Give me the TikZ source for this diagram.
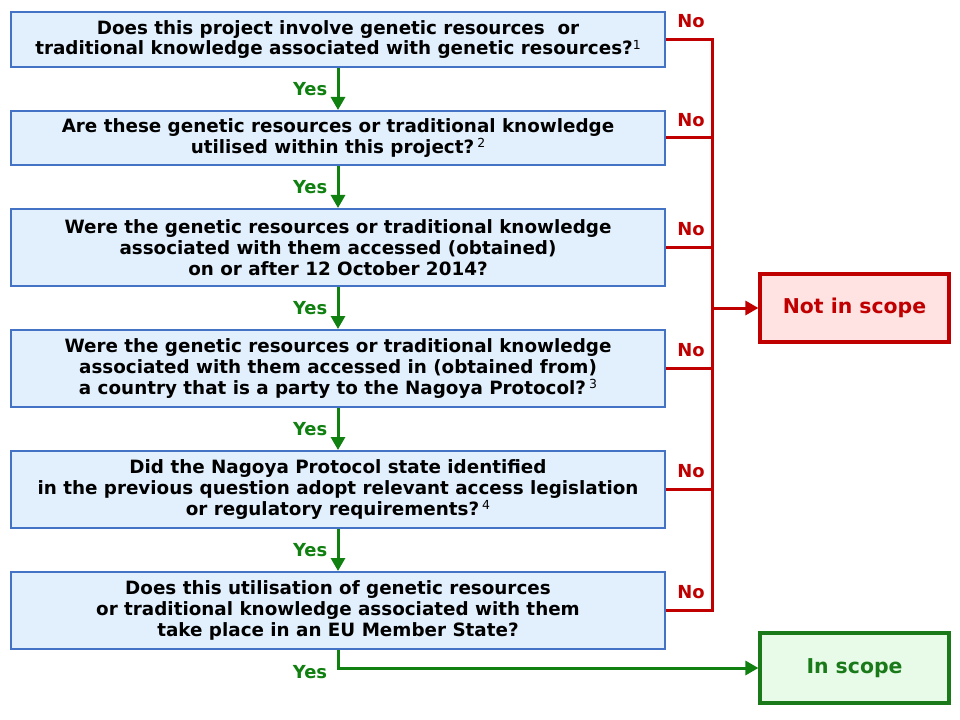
\documentclass[tikz,border=0pt]{standalone}
\usepackage{fontspec}
\setmainfont{DejaVu Sans}
\usetikzlibrary{arrows.meta,calc}
\definecolor{qfill}{HTML}{E2F0FD}
\definecolor{qdraw}{HTML}{4472C4}
\definecolor{nored}{HTML}{C00000}
\definecolor{nofill}{HTML}{FFE3E3}
\definecolor{yesgreen}{HTML}{108010}
\definecolor{isfill}{HTML}{E8FBE8}
\definecolor{isdraw}{HTML}{1A7A1A}
\newcommand{\fnref}[1]{\raisebox{0.55ex}{\fontsize{12.5}{14}\selectfont\mdseries #1}}
\tikzset{
  qbox/.style={draw=qdraw, fill=qfill, line width=2bp, minimum width=654bp, align=center, inner sep=0pt,
    font=\fontsize{18.4}{21}\selectfont\bfseries},
  endbox/.style={line width=3.2bp, minimum width=189bp, inner sep=0pt, font=\fontsize{20.5}{22}\selectfont\bfseries},
  nol/.style={draw=nored, line width=3bp},
  yesl/.style={draw=yesgreen, line width=3bp},
  tip/.style={-{Triangle[length=13bp,width=14bp]}},
  nolab/.style={text=nored, font=\fontsize{18}{20}\selectfont\bfseries},
  yeslab/.style={text=yesgreen, font=\fontsize{18}{20}\selectfont\bfseries},
}
\begin{document}
\begin{tikzpicture}[x=1bp,y=-1bp]
\useasboundingbox (0,0) rectangle (960,720);
\fill[white] (0,0) rectangle (960,720);
\node[qbox, minimum height=55bp] (b1) at (338,39.5) {Does this project involve genetic resources\ \ or\\traditional knowledge associated with genetic resources?\fnref{1}};
\node[qbox, minimum height=54bp] (b2) at (338,138) {Are these genetic resources or traditional knowledge\\utilised within this project?\,\fnref{2}};
\node[qbox, minimum height=77bp] (b3) at (338,247.5) {Were the genetic resources or traditional knowledge\\associated with them accessed (obtained)\\on or after 12 October 2014?};
\node[qbox, minimum height=77bp] (b4) at (338,368.5) {Were the genetic resources or traditional knowledge\\associated with them accessed in (obtained from)\\a country that is a party to the Nagoya Protocol?\,\fnref{3}};
\node[qbox, minimum height=77bp] (b5) at (338,489.5) {Did the Nagoya Protocol state identified\\in the previous question adopt relevant access legislation\\or regulatory requirements?\,\fnref{4}};
\node[qbox, minimum height=77bp] (b6) at (338,610.5) {Does this utilisation of genetic resources\\or traditional knowledge associated with them\\take place in an EU Member State?};
\node[endbox, draw=nored, fill=nofill, text=nored, minimum height=68bp] (nis) at (854.5,308) {Not in scope};
\node[endbox, draw=isdraw, fill=isfill, text=isdraw, minimum height=70bp] (ins) at (854.5,668) {In scope};
% No bus
\coordinate (bus) at (712,0);
\draw[nol] (b1.east) -- (b1.east -| bus) -- (b6.east -| bus) -- (b6.east);
\foreach \b in {b2,b3,b4,b5}{\draw[nol] (\b.east) -- (\b.east -| bus);}
\draw[nol,tip] (nis.west -| bus) -- (nis.west);
\foreach \b in {b1,b2,b3,b4,b5,b6}{\node[nolab] at ($(\b.east)+(25,-18)$) {No};}
% Yes arrows
\foreach \a/\c in {b1/b2,b2/b3,b3/b4,b4/b5,b5/b6}{
  \draw[yesl,tip] (\a.south) -- node[yeslab, left=6bp] {Yes} (\c.north);}
\draw[yesl,tip] (b6.south) |- (ins.west);
\node[yeslab] at (310,672) {Yes};
\end{tikzpicture}
\end{document}
